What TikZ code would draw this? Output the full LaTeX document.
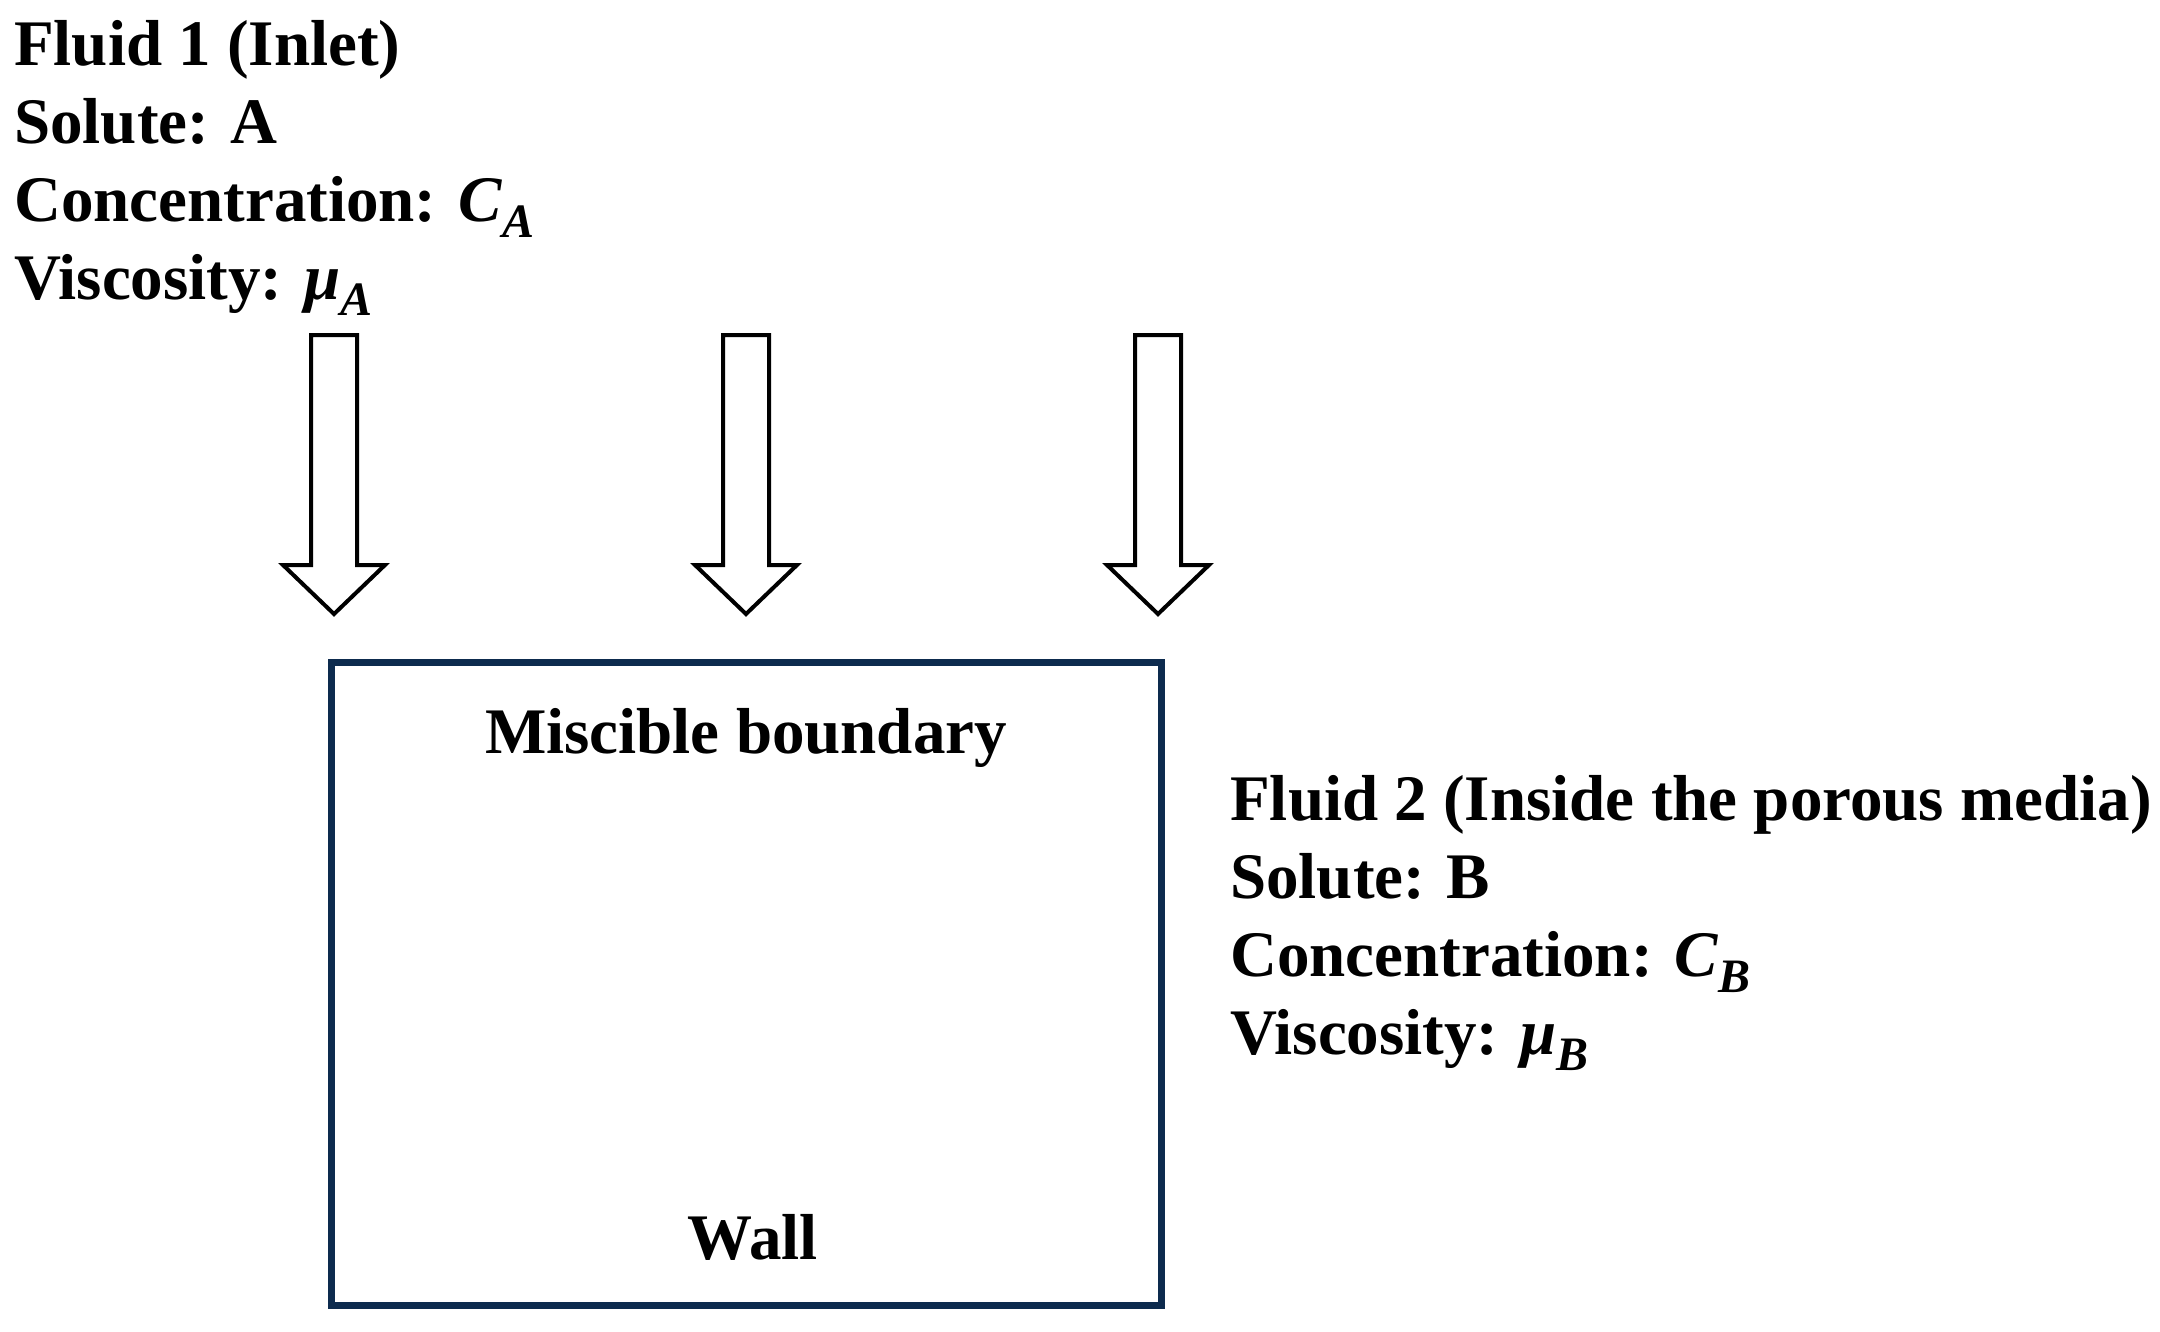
\documentclass[tikz,border=0pt]{standalone}
\usepackage{fontspec}
\setmainfont{Liberation Serif}
\newcommand{\bi}[1]{\textbf{\textit{#1}}}
\newcommand{\sbs}[1]{\raisebox{-0.25em}{\fontsize{48}{48}\selectfont\bi{#1}}}
\begin{document}
\begin{tikzpicture}[x=1pt,y=-1pt,
  lbl/.style={font=\fontsize{65}{78}\selectfont\bfseries,align=left,inner sep=0pt},
  flow/.style={draw=black,line width=4pt,fill=white,line join=miter},
  box/.style={draw={rgb,255:red,13;green,43;blue,78},line width=7pt}]
\useasboundingbox (0,0) rectangle (2160,1331);
\node[lbl,anchor=north west] (f1) at (14,20) {Fluid 1 (Inlet)\\Solute: A\\Concentration: \bi{C}\sbs{A}\\Viscosity: \bi{μ}\sbs{A}};
\foreach \n/\x in {a1/334,a2/746,a3/1158}{
  \draw[flow] (\x-23,335) -- (\x+23,335) -- (\x+23,565) -- (\x+51,565) -- (\x,614) -- (\x-51,565) -- (\x-23,565) -- cycle;
  \coordinate (\n) at (\x,614);
}
\draw[box] (331,662) rectangle (1161,1305);
\node[lbl] (mb) at (746,738) {Miscible boundary};
\node[lbl] (wall) at (753,1237) {Wall};
\node[lbl,anchor=north west] (f2) at (1230,775) {Fluid 2 (Inside the porous media)\\Solute: B\\Concentration: \bi{C}\sbs{B}\\Viscosity: \bi{μ}\sbs{B}};
\end{tikzpicture}
\end{document}
